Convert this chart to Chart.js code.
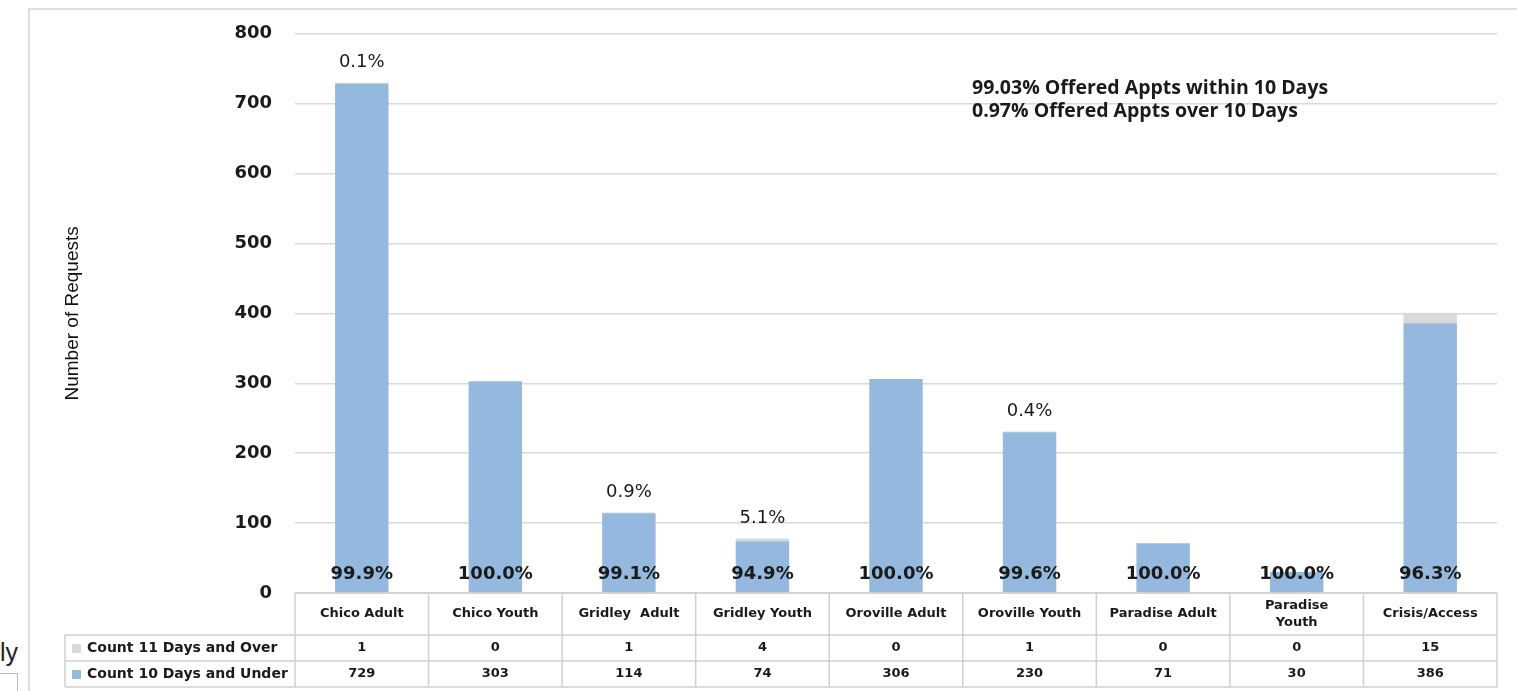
<!DOCTYPE html>
<html>
<head>
<meta charset="utf-8">
<script src="https://cdn.jsdelivr.net/npm/chart.js@4"></script>
<style>
html, body { margin: 0; padding: 0; background: #fff; }
#wrap { position: relative; width: 1517px; height: 691px; overflow: hidden; }
#frame { position: absolute; left: 28px; top: 8px; width: 1500px; height: 700px; border-top: 2px solid #dcdcdc; border-left: 2px solid #dcdcdc; }
#chart { position: absolute; left: 0; top: 0; }
#side { position: absolute; left: 0; top: 638px; font: 25px "Liberation Sans", sans-serif; color: #222; }
#box { position: absolute; left: -2px; top: 673px; width: 18px; height: 30px; border: 1.5px solid #bbb; }
</style>
</head>
<body>
<div id="wrap">
  <div id="frame"></div>
  <div id="side">ly</div>
  <div id="box"></div>
  <canvas id="chart" width="1517" height="691"></canvas>
</div>
<script>
// 데이터
const categories = [['Chico Adult'], ['Chico Youth'], ['Gridley  Adult'], ['Gridley Youth'], ['Oroville Adult'], ['Oroville Youth'], ['Paradise Adult'], ['Paradise', 'Youth'], ['Crisis/Access']]
const seriesNames = ['Count 11 Days and Over', 'Count 10 Days and Under']
const over10 = [1, 0, 1, 4, 0, 1, 0, 0, 15]
const under10 = [729, 303, 114, 74, 306, 230, 71, 30, 386]
const underPct = ['99.9%', '100.0%', '99.1%', '94.9%', '100.0%', '99.6%', '100.0%', '100.0%', '96.3%']
const overPct = ['0.1%', null, '0.9%', '5.1%', null, '0.4%', null, null, null]
const yTicks = [0, 100, 200, 300, 400, 500, 600, 700, 800]
const notes = ['99.03% Offered Appts within 10 Days', '0.97% Offered Appts over 10 Days']

const blue = '#95b8de'
const gray = '#d9d9d9'
const lineGray = '#d0d0d0'

// 막대 위 퍼센트 라벨
const pctLabels = {
    id: 'pctLabels',
    afterDatasetsDraw(chart) {
        const ctx = chart.ctx
        const x = chart.scales.x
        const y = chart.scales.y
        ctx.save()
        ctx.textAlign = 'center'
        ctx.textBaseline = 'middle'
        ctx.fillStyle = '#1a1a1a'
        categories.forEach((c, i) => {
            const cx = x.getPixelForValue(i)
            ctx.font = 'bold 18px "DejaVu Sans"'
            ctx.fillText(underPct[i], cx, chart.chartArea.bottom - 19)
            if (overPct[i]) {
                ctx.font = '18px "DejaVu Sans"'
                ctx.fillText(overPct[i], cx, y.getPixelForValue(under10[i] + over10[i]) - 20)
            }
        })
        ctx.textAlign = 'left'
        ctx.font = 'bold 19.5px "Open Sans"'
        notes.forEach((n, k) => ctx.fillText(n, 972, 88 + k * 23))
        ctx.restore()
    }
}

// 아래 데이터 테이블
const dataTable = {
    id: 'dataTable',
    afterDraw(chart) {
        const ctx = chart.ctx
        const area = chart.chartArea
        const x = chart.scales.x
        const colW = (area.right - area.left) / categories.length
        const top = area.bottom
        const hdrH = 42
        const rowH = 26
        const legendLeft = 65

        ctx.save()
        ctx.strokeStyle = lineGray
        ctx.lineWidth = 1.5
        ctx.beginPath()
        ctx.moveTo(area.left, top); ctx.lineTo(area.right, top)
        for (let r = 0; r <= 2; r++) {
            ctx.moveTo(legendLeft, top + hdrH + r * rowH)
            ctx.lineTo(area.right, top + hdrH + r * rowH)
        }
        for (let i = 0; i <= categories.length; i++) {
            ctx.moveTo(area.left + i * colW, top)
            ctx.lineTo(area.left + i * colW, top + hdrH + 2 * rowH)
        }
        ctx.moveTo(legendLeft, top + hdrH)
        ctx.lineTo(legendLeft, top + hdrH + 2 * rowH)
        ctx.stroke()

        ctx.fillStyle = '#1a1a1a'
        ctx.textAlign = 'center'
        ctx.textBaseline = 'middle'
        ctx.font = 'bold 13px "DejaVu Sans"'
        categories.forEach((c, i) => {
            const cx = x.getPixelForValue(i)
            const cy = top + hdrH / 2
            c.forEach((line, k) => {
                ctx.fillText(line, cx, cy + (k - (c.length - 1) / 2) * 17)
            })
        })

        const rows = [over10, under10]
        const colors = [gray, blue]
        rows.forEach((row, r) => {
            const cy = top + hdrH + r * rowH + rowH / 2
            ctx.font = 'bold 13px "DejaVu Sans"'
            row.forEach((v, i) => {
                ctx.fillText(String(v), x.getPixelForValue(i), cy)
            })
            ctx.fillStyle = colors[r]
            ctx.fillRect(72, cy - 4, 9, 9)
            ctx.fillStyle = '#1a1a1a'
            ctx.textAlign = 'left'
            ctx.font = 'bold 14px "DejaVu Sans"'
            ctx.fillText(seriesNames[r], 87, cy)
            ctx.textAlign = 'center'
        })
        ctx.restore()
    }
}

new Chart(document.getElementById('chart'), {
    type: 'bar',
    data: {
        labels: categories,
        datasets: [
            { label: seriesNames[1], data: under10, backgroundColor: blue },
            { label: seriesNames[0], data: over10, backgroundColor: gray }
        ]
    },
    options: {
        responsive: false,
        animation: false,
        layout: { padding: { top: 31, right: 20, bottom: 98, left: 0 } },
        categoryPercentage: 1,
        barPercentage: 0.4,
        plugins: {
            legend: { display: false },
            tooltip: { enabled: false }
        },
        scales: {
            x: { display: false, stacked: true },
            y: {
                stacked: true,
                min: 0,
                max: 800,
                afterBuildTicks: s => { s.ticks = yTicks.map(v => ({ value: v })) },
                afterFit: s => { s.width = 295 },
                border: { display: false },
                grid: { color: gray, lineWidth: 1.5, drawTicks: false },
                ticks: {
                    padding: 23,
                    color: '#1a1a1a',
                    font: { family: 'DejaVu Sans', size: 18, weight: 'bold' }
                },
                title: {
                    display: true,
                    text: 'Number of Requests',
                    color: '#111',
                    padding: { top: 61 },
                    font: { family: 'Liberation Sans', size: 19 }
                }
            }
        }
    },
    plugins: [pctLabels, dataTable]
})
</script>
</body>
</html>
